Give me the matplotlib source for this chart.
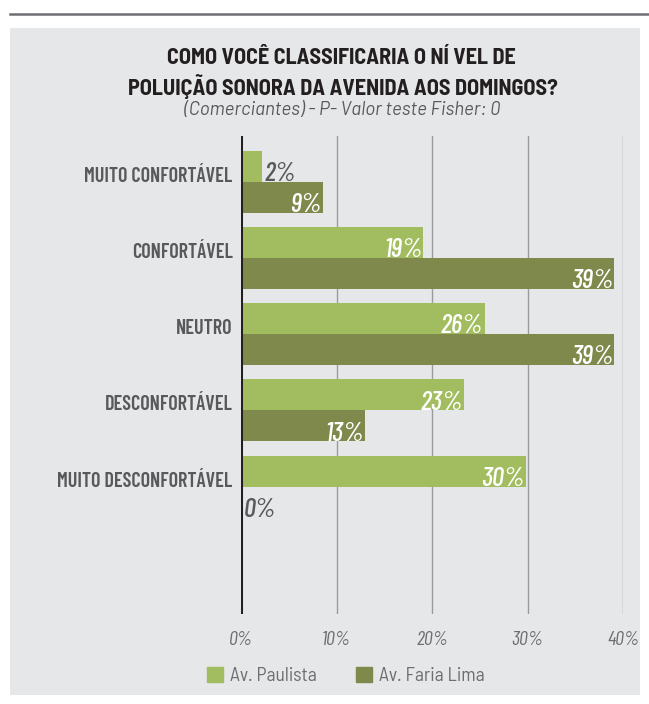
import matplotlib
matplotlib.use("Agg")
import matplotlib.pyplot as plt
from matplotlib.patches import Rectangle
from matplotlib.lines import Line2D
import numpy as np

plt.rcParams["font.family"] = ["Barlow Condensed", "DejaVu Sans"]

# data
categories = ["MUITO CONFORTÁVEL", "CONFORTÁVEL", "NEUTRO",
              "DESCONFORTÁVEL", "MUITO DESCONFORTÁVEL"]
paulista = [2.2, 19.1, 25.5, 23.4, 29.8]
faria_lima = [8.6, 39.1, 39.1, 13.0, 0.0]
paulista_labels = ["2%", "19%", "26%", "23%", "30%"]
faria_labels = ["9%", "39%", "39%", "13%", "0%"]
series_names = ["Av. Paulista", "Av. Faria Lima"]
xticks = [0, 10, 20, 30, 40]
xtick_labels = ["0%", "10%", "20%", "30%", "40%"]

PAULISTA_C = "#a2bd5f"
FARIA_C = "#7f894c"
PANEL_C = "#e6e7e8"
TITLE_C = "#231f20"
LABEL_C = "#58595b"
TICK_C = "#6d6e71"

W, H = 649, 704
fig = plt.figure(figsize=(W / 100, H / 100), dpi=100)
fig.patch.set_facecolor("white")

# background panel and top rule
fig.patches.append(Rectangle((10 / W, 1 - 695 / H), 630 / W, 667 / H,
                             transform=fig.transFigure, facecolor=PANEL_C,
                             edgecolor="none", zorder=-5))
fig.lines.append(Line2D([10 / W, 1], [1 - 13.5 / H, 1 - 13.5 / H],
                        transform=fig.transFigure, color="#6d6e71", lw=1.8,
                        zorder=-5))

ax = fig.add_axes([241 / W, 1 - 614 / H, 382 / W, 478 / H])
ax.set_zorder(2)
ax.set_facecolor("none")
ax.set_xlim(0, 40)
ax.set_ylim(5.67, -0.6)

y = np.arange(len(categories))
h = 0.406
ax.barh(y - h / 2, paulista, height=h, color=PAULISTA_C, zorder=3)
ax.barh(y + h / 2, faria_lima, height=h, color=FARIA_C, zorder=3)

for x in xticks[1:]:
    ax.axvline(x, color="#9a9b9d", lw=1.0, zorder=1)
ax.axvline(0, color=TITLE_C, lw=2.2, zorder=4)

for spine in ax.spines.values():
    spine.set_visible(False)


# value labels: white inside the bar, grey outside when the bar is short
def put_labels(vals, labels, base):
    for i, (v, lab) in enumerate(zip(vals, labels)):
        yy = i + base - 0.01
        if v > 5:
            ax.text(v - 0.15, yy, lab, ha="right", va="baseline",
                    fontsize=19.5, style="italic", fontweight="medium",
                    color="white", zorder=5)
        else:
            ax.text(v + 0.3, yy, lab, ha="left", va="baseline",
                    fontsize=19.5, style="italic", fontweight="medium",
                    color=LABEL_C, zorder=5)


put_labels(paulista, paulista_labels, 0.0)
put_labels(faria_lima, faria_labels, h)

ax.set_yticks(y)
ax.set_yticklabels(categories, fontsize=14.5, fontweight="semibold", color=LABEL_C)
for lab in ax.get_yticklabels():
    lab.set_verticalalignment("baseline")
ax.set_xticks(xticks)
ax.set_xticklabels(xtick_labels, fontsize=14.5, style="italic", color=TICK_C)
ax.tick_params(axis="both", length=0)
ax.tick_params(axis="y", pad=6)
ax.tick_params(axis="x", pad=12)

# titles
fig.text(341 / W, 1 - 64 / H, "COMO VOCÊ CLASSIFICARIA O NÍ VEL DE",
         ha="center", va="baseline", fontsize=16, fontweight="bold",
         family=["Barlow Semi Condensed", "DejaVu Sans"], color=TITLE_C)
fig.text(343 / W, 1 - 95 / H, "POLUIÇÃO SONORA DA AVENIDA AOS DOMINGOS?",
         ha="center", va="baseline", fontsize=16, fontweight="bold",
         family=["Barlow Semi Condensed", "DejaVu Sans"], color=TITLE_C)
fig.text(342 / W, 1 - 115 / H, "(Comerciantes) - P- Valor teste Fisher: 0",
         ha="center", va="baseline", fontsize=13.5, style="italic",
         family=["Barlow", "DejaVu Sans"], color=LABEL_C)

# legend
handles = [Rectangle((0, 0), 1, 1, color=PAULISTA_C),
           Rectangle((0, 0), 1, 1, color=FARIA_C)]
leg = fig.legend(handles, series_names, loc="center", ncol=2,
                 bbox_to_anchor=(346 / W, 1 - 676 / H), frameon=False,
                 prop={"family": ["Barlow Semi Condensed", "DejaVu Sans"], "size": 14},
                 handlelength=0.8, handleheight=0.8,
                 handletextpad=0.4, columnspacing=2.0)
for t in leg.get_texts():
    t.set_color(TICK_C)

fig.savefig("out.png", dpi=100, facecolor=fig.get_facecolor())
